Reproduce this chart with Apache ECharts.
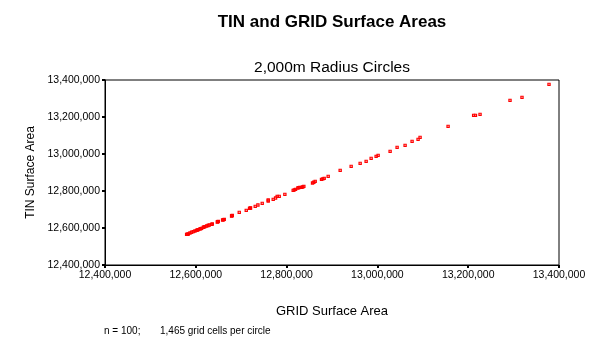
<!DOCTYPE html>
<html>
<head>
<meta charset="utf-8">
<script src="https://cdn.jsdelivr.net/npm/echarts@6/dist/echarts.min.js"></script>
<style>
html,body{margin:0;padding:0;background:#fff;}
#chart{width:605px;height:346px;}
</style>
</head>
<body>
<div id="chart"></div>
<script>
var titleText = "TIN and GRID Surface Areas";
var subtitleText = "2,000m Radius Circles";
var xAxisName = "GRID Surface Area";
var yAxisName = "TIN Surface Area";
var noteLeft = "n = 100;";
var noteRight = "1,465 grid cells per circle";

var axisMin = 12400000;
var axisMax = 13400000;
var axisInterval = 200000;

var gridArea = [12579800,12583400,12587100,12594400,12598100,12601800,12605400,12609100,12612800,12616400,
  12620100,12623800,12629600,12634800,12636300,12647300,12649500,12659000,12662700,12678800,
  12680300,12695700,12711100,12718400,12720600,12730900,12736800,12746300,12759500,12759500,
  12770500,12775700,12779300,12783700,12796200,12814500,12819700,12824800,12829200,12832900,
  12838000,12857100,12863000,12876900,12882800,12891600,12918000,12942200,12962000,12975200,
  12986200,12997200,13001600,13028000,13043400,13061000,13076400,13089600,13094000,13155700,
  13212000,13216000,13226100,13292100,13318500,13378000,
  12581500,12590800,12603500,12611000,12618000,12627000,12648500,12660800,12679500,12719500,
  12817000,12827000,12835500,12860000,12879800];
var tinArea = [12565800,12567600,12573000,12580200,12583800,12587400,12591000,12594600,12598200,12603600,
  12607200,12610800,12616200,12619800,12621600,12632400,12636000,12643200,12646800,12664900,
  12668500,12684700,12695500,12706300,12708100,12717100,12724300,12733300,12745900,12751300,
  12754900,12762100,12771200,12771200,12782000,12803600,12809000,12816200,12819800,12819800,
  12825200,12843200,12852200,12863000,12868400,12879300,12911700,12933300,12949500,12960300,
  12976500,12987400,12992800,13014400,13036000,13046800,13068400,13079200,13090000,13149500,
  13209000,13209000,13214400,13290000,13306300,13376500,
  12566500,12577000,12589500,12596500,12605500,12613500,12634000,12645000,12666500,12707200,
  12806000,12818000,12822000,12847500,12865500];

var points = gridArea.map(function (g, i) { return [g, tinArea[i]]; });

function commas(v) {
  return String(Math.round(v)).replace(/\B(?=(\d{3})+(?!\d))/g, ",");
}

var FONT = "'Liberation Sans', Arial, sans-serif";
var chart = echarts.init(document.getElementById('chart'), null, {renderer: 'canvas'});

var axisCommon = {
  type: 'value',
  min: axisMin,
  max: axisMax,
  interval: axisInterval,
  nameLocation: 'middle',
  nameTextStyle: {fontFamily: FONT, fontSize: 13, color: '#000'},
  axisLine: {show: true, lineStyle: {color: '#000', width: 1}},
  axisTick: {show: true, inside: false, length: 3, lineStyle: {color: '#000', width: 2}},
  axisLabel: {fontFamily: FONT, fontSize: 10.5, color: '#000', formatter: commas},
  splitLine: {show: false}
};

chart.setOption({
  animation: false,
  backgroundColor: '#fff',
  grid: {left: 105, top: 80, width: 454, height: 185, show: true, borderColor: '#000', borderWidth: 1, backgroundColor: 'transparent'},
  xAxis: Object.assign({}, axisCommon, {
    name: xAxisName, nameGap: 40,
    axisLabel: Object.assign({}, axisCommon.axisLabel, {margin: 5})
  }),
  yAxis: Object.assign({}, axisCommon, {
    name: yAxisName, nameGap: 68,
    nameTextStyle: {fontFamily: FONT, fontSize: 12, color: '#000'},
    axisLabel: Object.assign({}, axisCommon.axisLabel, {margin: 5})
  }),
  series: [{
    type: 'scatter',
    data: points,
    symbol: 'rect',
    symbolSize: 2.2,
    itemStyle: {color: 'rgba(255,255,255,0)', borderColor: '#ff0000', borderWidth: 1.2, opacity: 1}
  }],
  graphic: [
    {type: 'text', x: 332, y: 22, style: {text: titleText, font: 'bold 17px ' + FONT, fill: '#000', align: 'center', verticalAlign: 'middle'}},
    {type: 'text', x: 332, y: 68, style: {text: subtitleText, font: '15.5px ' + FONT, fill: '#000', align: 'center', verticalAlign: 'middle'}},
    {type: 'text', x: 104, y: 331, style: {text: noteLeft, font: '10px ' + FONT, fill: '#000', align: 'left', verticalAlign: 'middle'}},
    {type: 'text', x: 160, y: 331, style: {text: noteRight, font: '10px ' + FONT, fill: '#000', align: 'left', verticalAlign: 'middle'}}
  ]
});
</script>
</body>
</html>
